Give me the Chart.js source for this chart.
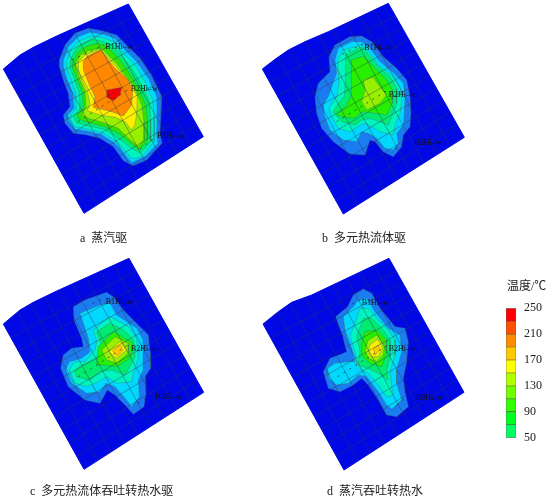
<!DOCTYPE html>
<html><head><meta charset="utf-8">
<style>
html,body{margin:0;padding:0;background:#fff;width:551px;height:501px;overflow:hidden}
.p{position:absolute}
.t{position:absolute;white-space:pre;font:12px "Liberation Serif","Noto Sans CJK SC",serif;color:#222;line-height:14px}
</style>
<script src="https://cdn.jsdelivr.net/npm/chart.js@4"></script>
</head><body>
<canvas id="a" class="p" style="left:0;top:0"></canvas>
<canvas id="b" class="p" style="left:255px;top:0"></canvas>
<canvas id="c" class="p" style="left:0;top:255px"></canvas>
<canvas id="d" class="p" style="left:255px;top:255px"></canvas>
<canvas id="bar" class="p" style="left:506px;top:293px"></canvas>
<div class="t" style="left:80px;top:231px">a  蒸汽驱</div>
<div class="t" style="left:322px;top:231px">b  多元热流体驱</div>
<div class="t" style="left:30px;top:484px">c  多元热流体吞吐转热水驱</div>
<div class="t" style="left:327px;top:484px">d  蒸汽吞吐转热水</div>
<div class="t" style="left:507px;top:279px">温度/℃</div>
<script>
// map units: 3 units = 1 screen pixel
const domainColor='#0008e4';
const colLight='#1a7cf0',colCyan='#00d8ff',colTeal='#00f4c0',colGreen='#00ec70',colG2='#28ee00',colLime='#30e400',colYG='#98f000',colYellow='#ffee00',colGold='#ffc800',colOrange='#ff8800',colRed='#ff0000';

const panelADomain=[[10,207],[60,165],[100,142],[170,108],[385,12],[610,410],[252,640]];
const panelABands=[
 [colLight,[[178,180],[195,135],[225,100],[265,85],[305,92],[350,105],[385,140],[420,175],[455,225],[485,290],[483,340],[480,400],[486,430],[440,480],[400,497],[370,482],[340,440],[300,415],[260,405],[220,400],[195,370],[190,345],[210,320],[205,280],[190,240],[178,200]]],
 [colCyan,[[190,180],[205,140],[235,110],[270,97],[310,103],[345,115],[375,150],[410,185],[445,235],[472,295],[472,345],[470,405],[474,430],[435,470],[395,488],[375,465],[345,430],[305,404],[265,394],[225,388],[205,362],[203,345],[222,325],[218,280],[200,235],[190,200]]],
 [colTeal,[[200,185],[215,145],[240,122],[275,108],[310,113],[340,125],[370,160],[405,195],[435,245],[458,300],[462,350],[462,425],[425,470],[395,476],[378,455],[350,425],[310,398],[265,388],[225,380],[212,360],[212,345],[230,325],[228,280],[212,235],[200,205]]],
 [colGreen,[[210,185],[225,150],[250,130],[280,118],[310,125],[335,135],[365,170],[395,205],[425,255],[448,305],[452,360],[452,425],[420,460],[388,440],[352,412],[312,388],[265,378],[230,368],[220,350],[240,325],[238,280],[222,235],[210,205]]],
 [colLime,[[218,190],[232,158],[258,140],[290,130],[310,135],[330,148],[360,180],[385,215],[415,265],[438,315],[442,365],[442,420],[418,450],[392,430],[360,402],[315,380],[270,368],[238,358],[232,345],[250,322],[248,280],[232,240],[218,205]]],
 [colYG,[[225,195],[240,165],[270,150],[305,145],[350,190],[375,225],[405,265],[425,315],[432,365],[432,420],[415,440],[385,415],[355,385],[310,368],[265,355],[245,345],[258,320],[255,275],[240,240]]],
 [colYellow,[[235,185],[255,165],[300,148],[345,195],[370,225],[395,255],[412,290],[410,340],[405,375],[395,390],[375,365],[345,352],[300,345],[262,332],[270,310],[262,275],[245,240],[235,210]]],
 [colOrange,[[250,185],[262,168],[302,150],[345,205],[385,240],[398,275],[395,315],[370,348],[335,335],[280,322],[285,290],[268,255],[250,210]]],
 [colRed,[[320,270],[365,262],[360,285],[340,302],[320,292]]]
];

const panelBDomain=[[22,207],[60,178],[100,150],[150,125],[220,95],[400,10],[628,412],[265,642]];
const panelBBands=[
 [colLight,[[222,170],[240,135],[285,110],[320,108],[350,125],[385,170],[425,205],[455,240],[465,290],[468,340],[465,380],[445,405],[440,440],[415,470],[385,455],[360,425],[345,420],[330,465],[285,462],[235,425],[200,385],[185,340],[180,290],[190,250],[225,215]]],
 [colCyan,[[240,180],[250,145],[290,125],[320,125],[345,145],[375,185],[415,218],[445,250],[450,290],[448,340],[445,375],[425,400],[430,430],[415,450],[390,445],[365,415],[340,400],[320,395],[305,425],[265,420],[225,390],[208,345],[205,315],[222,285],[232,255],[245,220]]],
 [colTeal,[[248,180],[265,150],[320,135],[345,160],[370,195],[410,225],[435,260],[440,300],[435,340],[420,375],[415,405],[375,395],[330,370],[315,375],[285,395],[250,385],[228,345],[222,325],[245,290],[252,250]]],
 [colGreen,[[272,165],[320,140],[345,170],[370,200],[405,230],[425,265],[425,310],[410,350],[400,375],[345,355],[320,360],[300,375],[260,365],[235,335],[250,310],[268,290],[272,230]]],
 [colG2,[[288,180],[325,168],[360,205],[395,240],[412,270],[412,310],[395,345],[360,340],[325,335],[295,355],[265,350],[245,345],[275,315],[290,285],[290,230]]],
 [colYG,[[325,240],[355,232],[375,260],[395,285],[375,310],[335,330],[320,305],[330,270]]]
];

const panelCDomain=[[10,207],[60,165],[100,142],[170,108],[387,10],[611,412],[252,643]];
const panelCBands=[
 [colLight,[[220,155],[255,135],[320,112],[345,130],[370,165],[420,215],[445,240],[450,290],[452,340],[435,365],[437,420],[432,455],[400,478],[375,450],[345,420],[322,405],[300,445],[255,435],[205,395],[182,340],[190,300],[215,280],[250,275],[245,250],[222,195]]],
 [colCyan,[[240,175],[300,150],[330,145],[350,180],[410,220],[430,255],[430,300],[430,345],[415,375],[418,425],[395,455],[375,430],[345,395],[318,385],[300,410],[260,415],[215,385],[197,345],[208,320],[245,310],[270,290],[265,250]]],
 [colTeal,[[280,225],[330,185],[385,215],[410,250],[415,310],[400,355],[395,380],[350,385],[320,365],[295,380],[260,395],[225,385],[208,345],[225,320],[255,320],[285,285],[290,260]]],
 [colGreen,[[290,230],[330,205],[370,225],[400,255],[405,305],[375,360],[335,345],[300,350],[270,375],[230,365],[225,345],[245,330],[290,310],[305,270]]],
 [colG2,[[295,275],[340,230],[400,265],[390,310],[350,335],[310,330],[290,330]]],
 [colYG,[[305,285],[345,245],[385,265],[385,295],[350,325],[320,315]]],
 [colYellow,[[325,290],[360,260],[380,285],[350,310]]],
 [colGold,[[338,288],[360,270],[370,285],[352,303]]]
];

const panelDDomain=[[24,207],[70,170],[110,142],[170,120],[402,10],[627,412],[267,645]];
const panelDBands=[
 [colLight,[[278,155],[295,120],[325,102],[350,115],[375,160],[420,215],[450,220],[460,260],[455,320],[445,370],[450,410],[460,455],[425,485],[395,480],[370,435],[340,390],[320,370],[295,390],[255,410],[220,400],[205,350],[225,310],[265,295],[275,290],[262,240],[242,185]]],
 [colCyan,[[295,155],[310,135],[335,130],[360,170],[400,220],[435,240],[440,290],[425,345],[425,385],[440,435],[410,462],[395,450],[370,410],[335,365],[310,360],[280,385],[245,390],[222,370],[218,340],[240,325],[280,320],[300,320],[290,280],[270,225],[265,185]]],
 [colTeal,[[315,160],[340,160],[370,195],[400,225],[420,255],[420,300],[405,350],[410,395],[415,420],[395,425],[370,390],[340,355],[320,345],[305,330],[300,290],[285,245],[305,190]]],
 [colGreen,[[325,190],[350,190],[385,225],[405,255],[405,305],[395,345],[400,375],[370,355],[340,340],[310,330],[315,285],[305,245]]],
 [colG2,[[330,230],[365,225],[395,255],[395,295],[380,335],[345,325],[320,300],[320,265]]],
 [colYG,[[340,255],[365,240],[388,270],[385,300],[365,320],[340,310],[330,285]]],
 [colYellow,[[345,270],[368,252],[382,280],[370,305],[350,305],[340,290]]],
 [colGold,[[355,280],[370,270],[375,285],[360,300]]]
];

// mesh lines of the model grid (panel a); other panels share the mesh, shifted
const meshRowStart=[[32,246],[54,286],[76,325],[98,364],[120,404],[142,443],[164,483],[186,522],[208,561],[230,601]];
const meshRowEnd=[[405,48],[426,84],[446,120],[467,157],[487,193],[508,229],[528,265],[549,301],[569,338],[590,374]];
const meshColStart=[[52,170],[93,147],[135,125],[177,106],[218,88],[260,70],[302,50],[343,30]];
const meshColEnd=[[292,614],[332,589],[371,563],[411,537],[451,512],[491,486],[530,461],[570,435]];
const panelShift={a:[0,0],b:[14,0],c:[1,2],d:[15,2]};

const wellNames=['B1Hi–w','B2Hi–w','B3Hi–w'];
const wellLabelsA=[[316,140],[392,267],[471,407]];
const wellLabelsB=[[328,143],[401,284],[478,428]];
const wellLabelsC=[[317,141],[393,282],[466,427]];
const wellLabelsD=[[320,145],[401,283],[483,428]];
const wellTracksA=[[[215,180],[312,135]],[[235,365],[388,266]],[[420,447],[470,410]]];
const wellTracksB=[[[262,163],[328,130]],[[245,365],[402,268]],[[420,447],[455,428]]];
const wellTracksC=[[[278,145],[318,128]],[[235,365],[387,268]],[[415,445],[440,428]]];
const wellTracksD=[[[292,146],[322,132]],[[248,365],[402,268]],[[425,450],[452,428]]];

const barLevels=[50,70,90,110,130,150,170,190,210,230,250];
const barTicks=[50,90,130,170,210,250];
const barColors=['#00ff60','#00ff20','#30ff00','#70ff00','#b0ff00','#ffff00','#ffc800','#ff8c00','#ff5000','#ff0000'];

const toXY=(pts,s=[0,0])=>pts.map(p=>({x:p[0]+s[0],y:p[1]+s[1]}));
const closed=pts=>toXY(pts.concat([pts[0]]));

const wellLabelPlugin={id:'wellLabels',afterDatasetsDraw(ch,_a,o){
  const c=ch.ctx;c.save();c.font='8px "Liberation Serif",serif';c.fillStyle='#111';c.textBaseline='middle';
  o.pos.forEach((p,i)=>c.fillText(wellNames[i],ch.scales.x.getPixelForValue(p[0]),ch.scales.y.getPixelForValue(p[1])));
  c.restore();
}};

function panel(id,domain,bands,labels,tracks){
  const el=document.getElementById(id);el.width=255;el.height=245;el.style.width='255px';el.style.height='245px';
  const s=panelShift[id],ds=[];
  ds.push({data:closed(domain),backgroundColor:domainColor,borderColor:domainColor,fill:'shape',borderWidth:1});
  bands.forEach(b=>ds.push({data:closed(b[1]),backgroundColor:b[0],borderColor:'rgba(60,110,110,.6)',borderWidth:.6,fill:'shape'}));
  meshRowStart.forEach((p,i)=>ds.push({data:toXY([p,meshRowEnd[i]],s),borderColor:'rgba(45,55,80,.6)',borderWidth:.7,fill:false}));
  meshColStart.forEach((p,i)=>ds.push({data:toXY([p,meshColEnd[i]],s),borderColor:'rgba(45,55,80,.6)',borderWidth:.7,fill:false}));
  tracks.forEach(t=>ds.push({data:toXY(t),borderColor:'#222',borderWidth:.7,borderDash:[2,5],fill:false}));
  const n=ds.length;ds.forEach((d,i)=>{d.order=n-i;d.showLine=true;d.pointRadius=0;d.tension=0;});
  new Chart(el,{type:'scatter',data:{datasets:ds},plugins:[wellLabelPlugin],options:{
    responsive:false,animation:false,layout:{padding:0},
    plugins:{legend:{display:false},tooltip:{enabled:false},title:{display:false},wellLabels:{pos:labels}},
    scales:{x:{type:'linear',display:false,min:0,max:765},y:{type:'linear',display:false,reverse:true,min:0,max:735}}
  }});
}
panel('a',panelADomain,panelABands,wellLabelsA,wellTracksA);
panel('b',panelBDomain,panelBBands,wellLabelsB,wellTracksB);
panel('c',panelCDomain,panelCBands,wellLabelsC,wellTracksC);
panel('d',panelDDomain,panelDBands,wellLabelsD,wellTracksD);

const barEl=document.getElementById('bar');barEl.width=45;barEl.height=160;barEl.style.width='45px';barEl.style.height='160px';
new Chart(barEl,{type:'bar',data:{labels:['T'],datasets:barColors.map((col,i)=>({data:[[barLevels[i],barLevels[i+1]]],backgroundColor:col,borderColor:'#555',borderWidth:.6,borderSkipped:false,grouped:false,barPercentage:1,categoryPercentage:1}))},
 options:{responsive:false,animation:false,layout:{padding:{top:1,bottom:10,left:0,right:0}},
  plugins:{legend:{display:false},tooltip:{enabled:false}},
  scales:{x:{display:false},y:{min:50,max:250,position:'right',afterFit(s){s.width=35;},
    afterBuildTicks(s){s.ticks=barTicks.map(v=>({value:v}));},
    grid:{display:false,drawTicks:false},border:{display:false},
    ticks:{color:'#222',padding:8,autoSkip:false,font:{family:'Liberation Serif',size:12}}}}
 }});
</script></body></html>
